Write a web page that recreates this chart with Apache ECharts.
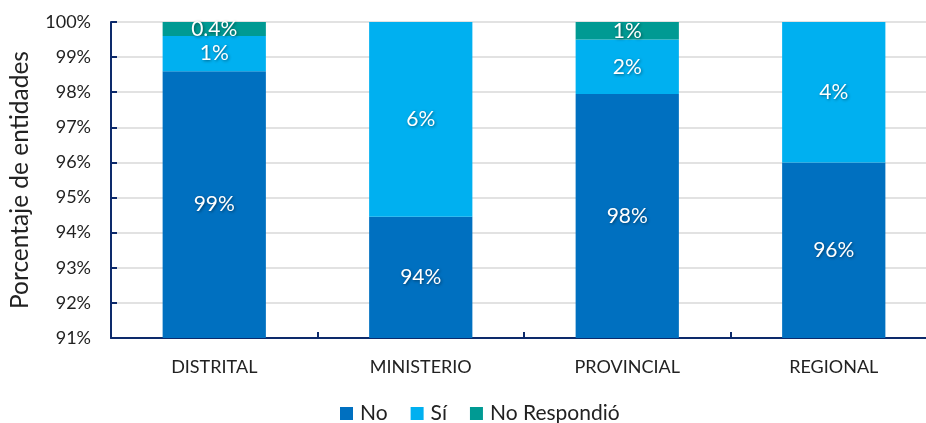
<!DOCTYPE html>
<html>
<head>
<meta charset="utf-8">
<script src="https://cdn.jsdelivr.net/npm/echarts@6/dist/echarts.min.js"></script>
<style>html,body{margin:0;padding:0;background:#fff;overflow:hidden}#c{position:absolute;left:0;top:0;width:944px;height:423px}</style>
</head>
<body>
<div id="c"></div>
<script>
var categories = ['DISTRITAL', 'MINISTERIO', 'PROVINCIAL', 'REGIONAL'];
var noValues = [98.6, 94.45, 97.95, 96.0];
var siValues = [1.0, 5.55, 1.55, 4.0];
var nrValues = [0.4, 0, 0.5, 0];
var yTicks = [91, 92, 93, 94, 95, 96, 97, 98, 99, 100];

var FONT = 'Lato, "Open Sans", sans-serif';
function fmt(p) {
  var v = p.value;
  if (!v) return '';
  return (v < 0.5 ? v.toFixed(1) : Math.round(v)) + '%';
}
var lbl = {
  show: true, position: 'inside', color: '#fff', fontSize: 21, fontFamily: FONT,
  textShadowColor: 'rgba(0,0,0,0.45)', textShadowBlur: 3, textShadowOffsetX: 1, textShadowOffsetY: 1,
  formatter: fmt
};
function ser(name, data, color) {
  return { name: name, type: 'bar', stack: 'a', data: data, barWidth: '50%',
    itemStyle: { color: color }, label: lbl };
}
var chart = echarts.init(document.getElementById('c'));
chart.setOption({
  animation: false,
  textStyle: { fontFamily: FONT },
  grid: { left: 106, top: 22, width: 831, height: 316, containLabel: false },
  legend: {
    top: 398, left: 335, itemWidth: 13, itemHeight: 13, itemGap: 23,
    icon: 'rect', textStyle: { fontSize: 21, color: '#222', fontFamily: FONT, padding: [0, 0, 0, 2] },
    data: ['No', 'Sí', 'No Respondió']
  },
  xAxis: {
    type: 'category', data: categories,
    axisLine: { lineStyle: { color: '#0d2a6b', width: 2 } },
    axisTick: { show: true, inside: true, length: 6, lineStyle: { color: '#0d2a6b', width: 2 } },
    axisLabel: { color: '#222', fontSize: 18, margin: 20, fontFamily: FONT }
  },
  yAxis: {
    type: 'value', min: yTicks[0], max: yTicks[yTicks.length - 1], interval: 1,
    name: 'Porcentaje de entidades', nameLocation: 'middle', nameGap: 78,
    nameTextStyle: { fontSize: 24.5, color: '#222', fontFamily: FONT },
    axisLine: { show: true, lineStyle: { color: '#0d2a6b', width: 2 } },
    axisTick: { show: true, inside: true, length: 6, lineStyle: { color: '#0d2a6b', width: 2 } },
    axisLabel: { color: '#222', fontSize: 18, margin: 20, fontFamily: FONT, formatter: '{value}%' },
    splitLine: { lineStyle: { color: '#d9d9d9', width: 1.5 } }
  },
  series: [
    ser('No', noValues, '#0070C0'),
    ser('Sí', siValues, '#00B0F0'),
    ser('No Respondió', nrValues, '#009A93')
  ]
});
</script>
</body>
</html>
